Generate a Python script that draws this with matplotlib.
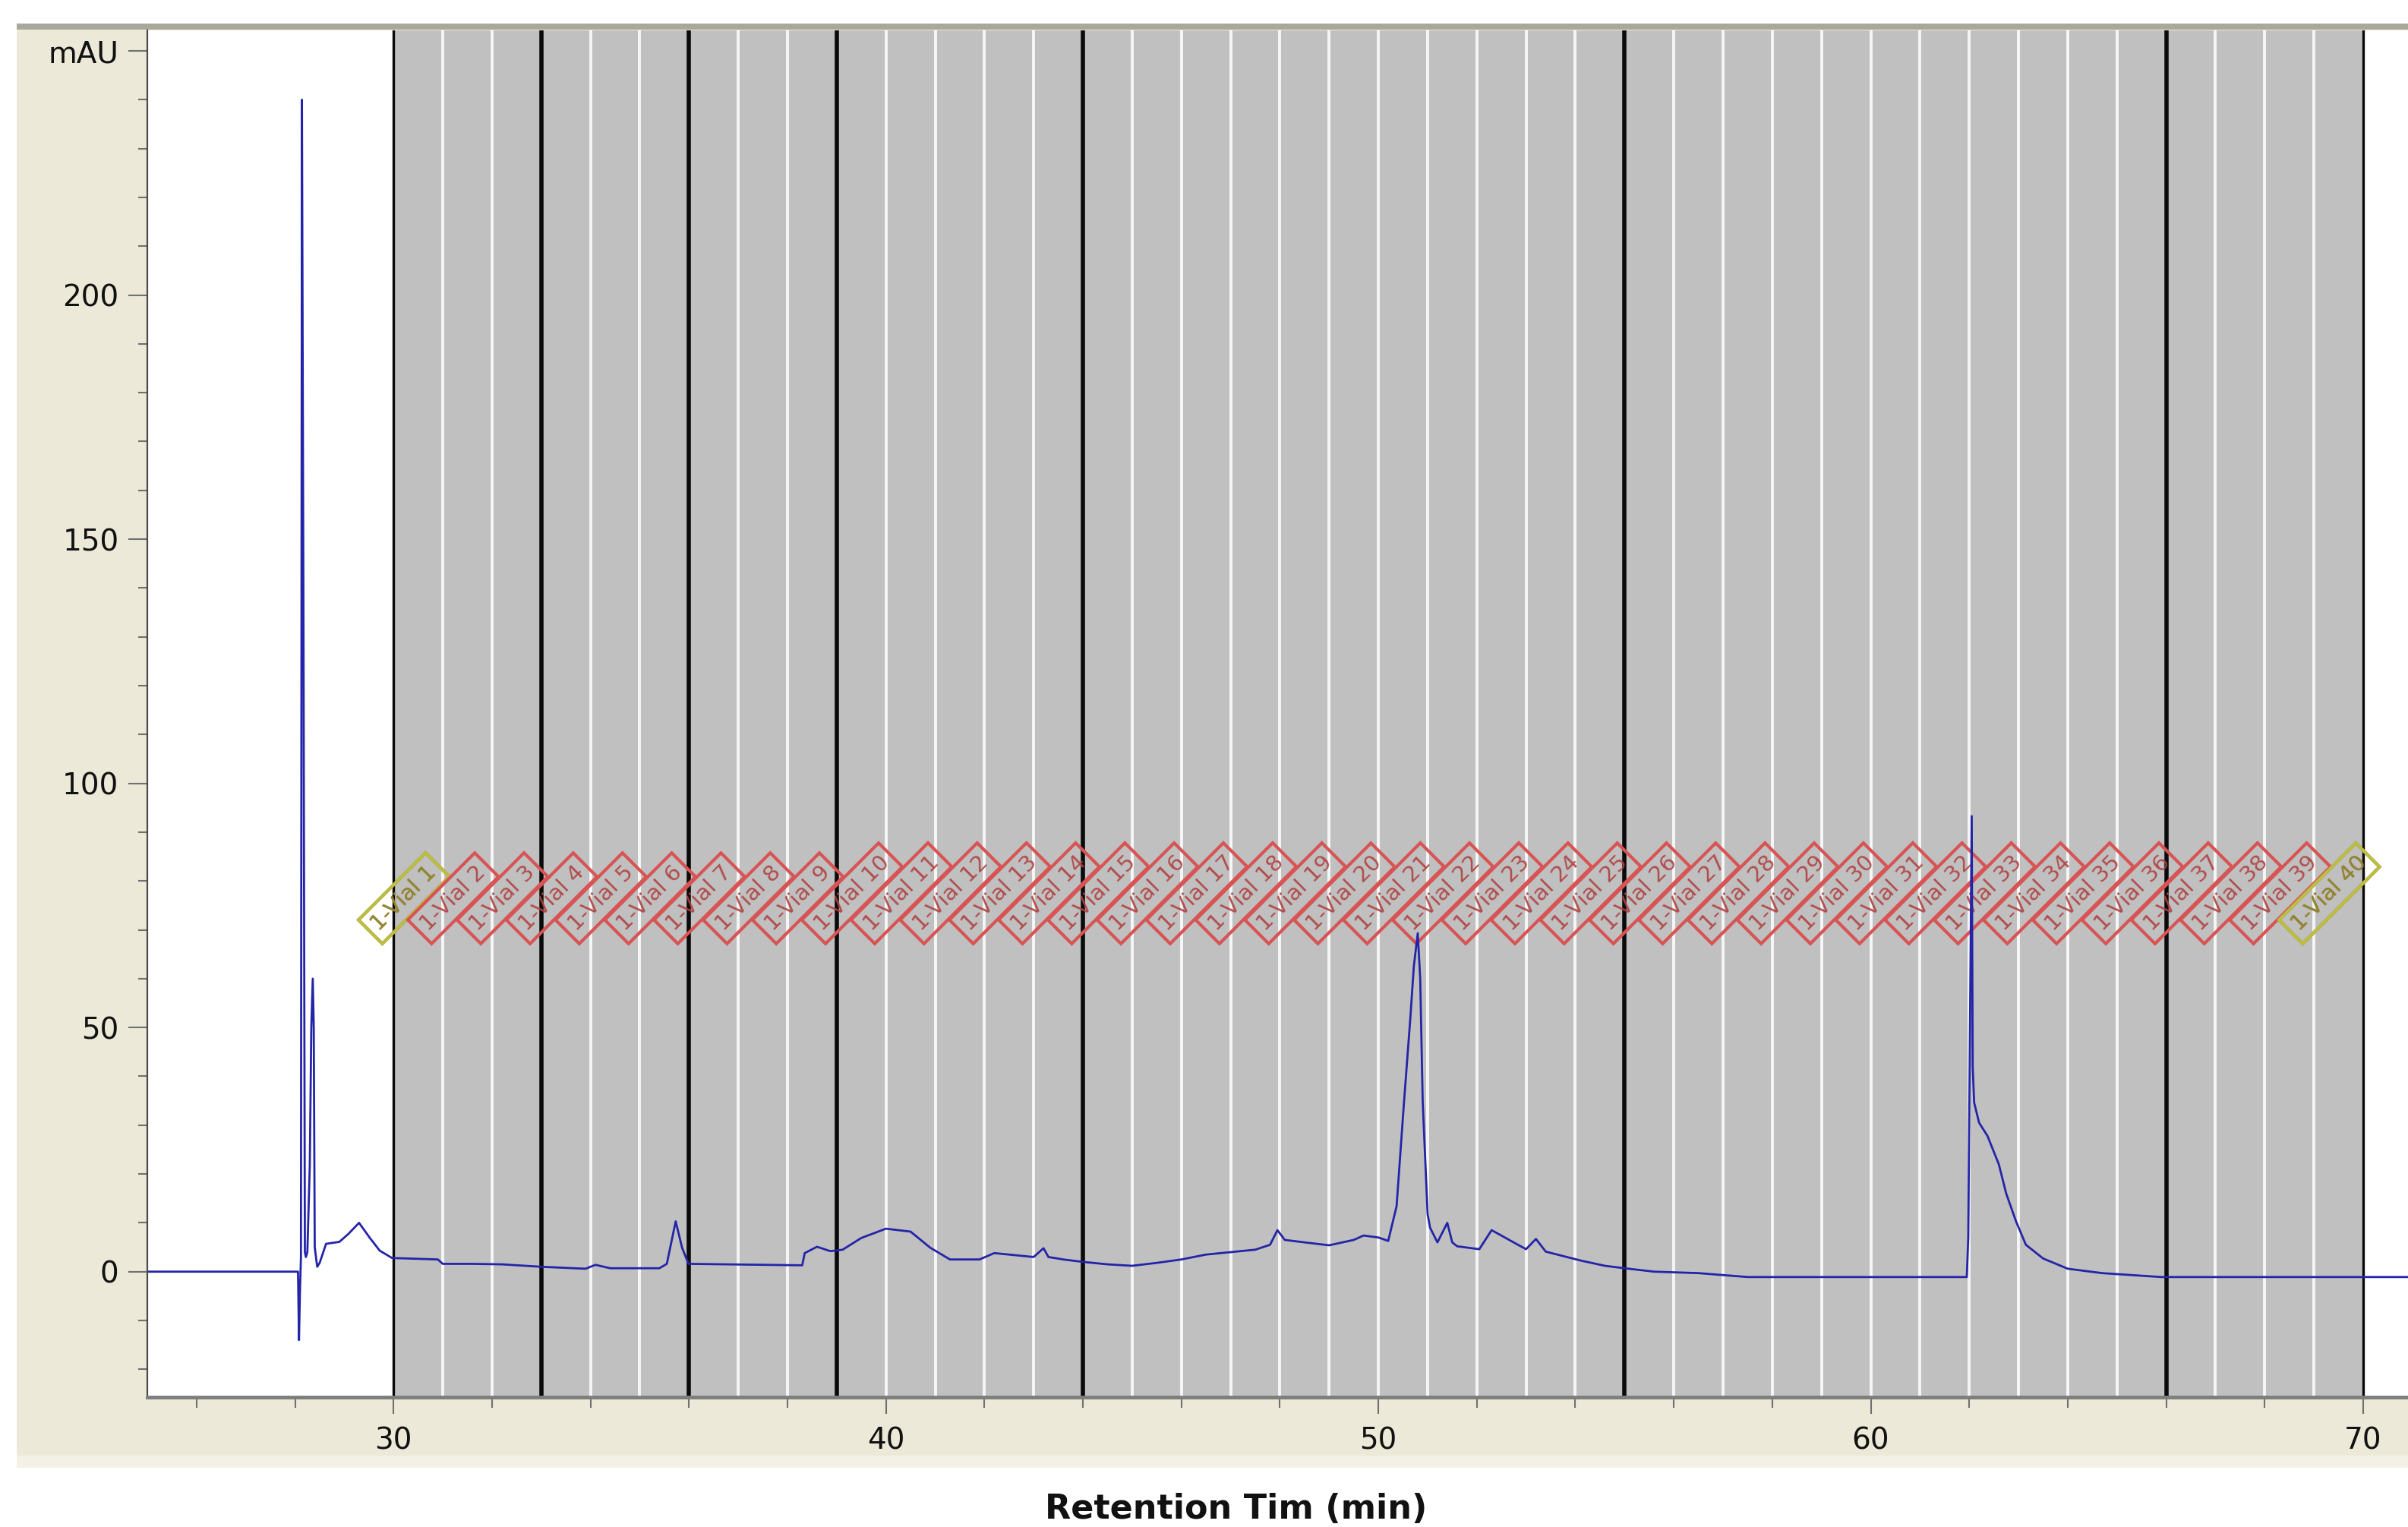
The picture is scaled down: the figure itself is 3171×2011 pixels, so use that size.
import numpy as np
import matplotlib
matplotlib.use("Agg")
import matplotlib.pyplot as plt
from matplotlib.patches import Rectangle
from matplotlib.ticker import MultipleLocator

# chromatogram trace (min, mAU)
times = [25.0, 28.06, 28.08, 28.1, 28.12, 28.14, 28.17, 28.2, 28.22, 28.25, 28.3, 28.33, 28.36, 28.38, 28.4,
         28.45, 28.5, 28.63, 28.9, 29.08, 29.3, 29.52, 29.72, 29.97, 30.9, 31.0, 31.6, 32.2, 33.0, 33.9,
         34.1, 34.4, 35.4, 35.55, 35.73, 35.86, 35.99, 38.3, 38.35, 38.6, 38.87, 39.12, 39.5, 40.0, 40.5,
         40.9, 41.3, 41.9, 42.2, 42.5, 43.0, 43.2, 43.3, 43.6, 44.0, 44.5, 45.0, 45.5, 46.0, 46.5, 47.0,
         47.5, 47.8, 47.95, 48.1, 48.5, 49.0, 49.5, 49.7, 50.0, 50.2, 50.37, 50.52, 50.65, 50.72, 50.8,
         50.85, 50.9, 51.0, 51.05, 51.2, 51.3, 51.4, 51.5, 51.6, 52.05, 52.3, 52.8, 53.0, 53.2, 53.4,
         54.1, 54.6, 55.0, 55.6, 56.5, 57.5, 61.95, 61.98, 62.05, 62.07, 62.1, 62.2, 62.37, 62.6, 62.75,
         62.95, 63.15, 63.5, 64.0, 64.7, 65.9, 70.91]
mau = [0.0, 0.0, -14.0, -4.0, 3.0, 240.0, 137.0, 4.0, 3.0, 4.0, 22.0, 50.0, 60.0, 50.0, 5.0,
       1.0, 1.8, 5.7, 6.1, 7.7, 10.0, 6.9, 4.3, 2.8, 2.5, 1.6, 1.6, 1.5, 1.0, 0.6,
       1.4, 0.7, 0.7, 1.6, 10.3, 4.9, 1.6, 1.3, 3.8, 5.1, 4.2, 4.5, 6.9, 8.8, 8.2,
       4.9, 2.5, 2.5, 3.8, 3.5, 3.0, 4.8, 3.0, 2.5, 2.0, 1.5, 1.2, 1.8, 2.5, 3.5, 4.0,
       4.5, 5.5, 8.5, 6.5, 6.0, 5.4, 6.5, 7.4, 7.0, 6.3, 13.4, 34.6, 52.0, 62.5, 69.3,
       60.0, 35.0, 11.8, 9.0, 6.0, 8.0, 10.0, 6.0, 5.2, 4.6, 8.5, 5.7, 4.6, 6.7, 4.1,
       2.3, 1.2, 0.7, 0.0, -0.3, -1.1, -1.1, 7.0, 93.3, 42.0, 34.6, 30.5, 27.8, 22.0, 16.0,
       10.3, 5.5, 2.7, 0.6, -0.3, -1.1, -1.1]

# fraction collection window
frac_start = 30
frac_end = 70
frac_edges = list(range(31, 70))
vial_breaks = [30, 33, 36, 39, 44, 55, 66, 70]
vial_labels = ["1-Vial %d" % n for n in range(1, 41)]

x_ticks = [30, 40, 50, 60, 70]
y_ticks = [0, 50, 100, 150, 200, 250]
y_ticklabels = ["0", "50", "100", "150", "200", "mAU"]

W, H = 3171, 2011
fig = plt.figure(figsize=(W / 100, H / 100), dpi=100, facecolor="white")

# window panel behind the plot
fig.patches.append(Rectangle((22 / W, (H - 1917) / H), 1, (1917 - 39) / H,
                             transform=fig.transFigure, fc="#ECE9D8", ec="none", zorder=-2))
fig.patches.append(Rectangle((22 / W, (H - 1933) / H), 1, 16 / H,
                             transform=fig.transFigure, fc="#F3F1E6", ec="none", zorder=-2))
fig.patches.append(Rectangle((22 / W, (H - 39) / H), 1, 8 / H,
                             transform=fig.transFigure, fc="#A9A89B", ec="none", zorder=-2))

ax = fig.add_axes([194 / W, (H - 1840) / H, 1 - 194 / W, (1840 - 40) / H])
ax.set_zorder(1)
ax.set_facecolor("white")
ax.set_xlim(25, 70.91)
ax.set_ylim(-25.7, 254.2)

ax.axvspan(frac_start, frac_end, color="#C0C0C0", zorder=1, lw=0)
for x in frac_edges:
    if x not in vial_breaks:
        ax.axvline(x, color="#F6F6F6", lw=2.8, zorder=2)
for x in vial_breaks:
    lw = 2.4 if x in (frac_start, frac_end) else 4.0
    ax.axvline(x, color="#0A0A0A", lw=lw, zorder=3)

# vial labels, red inside the collection window, olive outside
inside = Rectangle((frac_start, -30), frac_end - frac_start, 300, transform=ax.transData)
left_out = Rectangle((20, -30), frac_start - 20, 300, transform=ax.transData)
right_out = Rectangle((frac_end, -30), 5, 300, transform=ax.transData)
for i, lab in enumerate(vial_labels):
    x0 = frac_start - 0.38 + i
    t = ax.text(x0, 70.5, lab, rotation=45, rotation_mode="anchor", ha="left", va="center",
                fontsize=21, color="#B04040", alpha=0.9, zorder=4,
                bbox=dict(boxstyle="square,pad=0.28", fc="none", ec="#D85454", lw=3.0))
    t.set_clip_path(inside)
    if i == 0 or i == len(vial_labels) - 1:
        t2 = ax.text(x0, 70.5, lab, rotation=45, rotation_mode="anchor", ha="left", va="center",
                     fontsize=21, color="#8C8C2A", zorder=4,
                     bbox=dict(boxstyle="square,pad=0.28", fc="none", ec="#B8C040", lw=3.0))
        t2.set_clip_path(left_out if i == 0 else right_out)

ax.plot(times, mau, color="#2424A8", lw=2.0, zorder=5)

for side in ("top", "right"):
    ax.spines[side].set_visible(False)
ax.spines["left"].set_color("#4A4A4A")
ax.spines["left"].set_linewidth(1.6)
ax.spines["bottom"].set_color("#7E7E7E")
ax.spines["bottom"].set_linewidth(3.5)
ax.spines["left"].set_zorder(6)
ax.spines["bottom"].set_zorder(6)

ax.set_xticks(x_ticks)
ax.set_xticklabels([str(v) for v in x_ticks])
ax.xaxis.set_minor_locator(MultipleLocator(2))
ax.set_yticks(y_ticks)
ax.set_yticklabels(y_ticklabels)
ax.yaxis.set_minor_locator(MultipleLocator(10))

ax.tick_params(axis="x", which="major", length=16, width=1.5, color="#707070",
               labelsize=28, pad=12, labelcolor="#111111")
ax.tick_params(axis="x", which="minor", length=10, width=1.5, color="#707070")
ax.tick_params(axis="y", which="major", length=18, width=1.5, color="#707070",
               labelsize=28, pad=9, labelcolor="#111111")
ax.tick_params(axis="y", which="minor", length=9, width=1.5, color="#707070")

fig.text(1628 / W, (H - 1988) / H, "Retention Tim (min)", ha="center", va="center",
         fontsize=32, fontweight="bold", color="#111111")

fig.savefig("out.png", dpi=100, facecolor=fig.get_facecolor())
